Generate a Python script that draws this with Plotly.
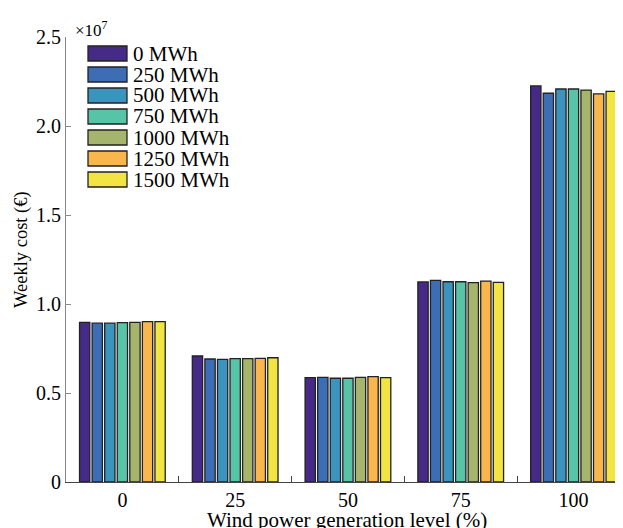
import plotly.graph_objects as go

levels = ["0", "25", "50", "75", "100"]
capacities = ["0 MWh", "250 MWh", "500 MWh", "750 MWh", "1000 MWh", "1250 MWh", "1500 MWh"]
colors = ["#452b87", "#3c6db5", "#3b94bd", "#57c4a8", "#a6b56c", "#f8b64c", "#f1e443"]

# Weekly cost in units of 10^7 EUR
cost_0 = [0.897, 0.708, 0.586, 1.124, 2.225]
cost_250 = [0.892, 0.691, 0.588, 1.133, 2.184]
cost_500 = [0.892, 0.689, 0.583, 1.125, 2.208]
cost_750 = [0.895, 0.693, 0.583, 1.125, 2.208]
cost_1000 = [0.897, 0.693, 0.588, 1.120, 2.202]
cost_1250 = [0.901, 0.695, 0.592, 1.129, 2.181]
cost_1500 = [0.901, 0.698, 0.586, 1.122, 2.195]
series = [cost_0, cost_250, cost_500, cost_750, cost_1000, cost_1250, cost_1500]

ytick_vals = [0, 0.5, 1.0, 1.5, 2.0, 2.5]
ytick_text = ["0", "0.5", "1.0", "1.5", "2.0", "2.5"]

FONT = "Liberation Serif"

fig = go.Figure()
for name, vals, col in zip(capacities, series, colors):
    fig.add_trace(go.Bar(
        x=levels, y=vals, name=name,
        marker=dict(color=col, line=dict(color="#222222", width=1.3)),
        showlegend=False,
    ))

# page places the figure 8px from the top-left corner (default body margin)
OFF = 8
SW, SH = 623, 528                      # screenshot size
W, H = SW - OFF, SH - OFF              # figure size
# plot area in screenshot pixels
X0, X1, Y0, Y1 = 66, 622, 37, 482
L, R, T, B = X0 - OFF, SW - X1, Y0 - OFF, SH - Y1
pw, ph = X1 - X0, Y1 - Y0

def px2x(px):
    return (px - X0) / pw

def py2y(py):
    return (Y1 - py) / ph

shapes = []
annotations = []
for i, (name, col) in enumerate(zip(capacities, colors)):
    cy = 53.5 + 21 * i
    shapes.append(dict(type="rect", xref="paper", yref="paper",
                       x0=px2x(88), x1=px2x(127), y0=py2y(cy + 7.5), y1=py2y(cy - 7.5),
                       fillcolor=col, line=dict(color="#222222", width=1.3)))
    annotations.append(dict(xref="paper", yref="paper", x=px2x(131), y=py2y(cy),
                            xanchor="left", yanchor="middle", text=name, showarrow=False,
                            font=dict(family=FONT, size=21, color="black")))

annotations.append(dict(xref="paper", yref="paper", x=px2x(73), y=py2y(42),
                        xanchor="left", yanchor="bottom", text="×10<sup>7</sup>", showarrow=False,
                        font=dict(family=FONT, size=17, color="black")))
annotations.append(dict(xref="paper", yref="paper", x=px2x(347), y=py2y(520),
                        xanchor="center", yanchor="middle", text="Wind power generation level (%)",
                        showarrow=False, font=dict(family=FONT, size=21, color="black")))
annotations.append(dict(xref="paper", yref="paper", x=px2x(21), y=py2y(250),
                        xanchor="center", yanchor="middle", text="Weekly cost (€)", textangle=-90,
                        showarrow=False, font=dict(family=FONT, size=18.5, color="black")))

fig.update_layout(
    width=W, height=H,
    margin=dict(l=L, r=R, t=T, b=B),
    paper_bgcolor="white", plot_bgcolor="white",
    barmode="group", bargap=0.22, bargroupgap=0.18,
    font=dict(family=FONT, size=20, color="black"),
    shapes=shapes, annotations=annotations,
    xaxis=dict(type="category", range=[-0.5, 4.43], tickson="boundaries",
               ticks="inside", ticklen=6, tickcolor="#444", showline=True,
               linecolor="#444", linewidth=1, showgrid=False, zeroline=False,
               automargin=False, tickfont=dict(family=FONT, size=20)),
    yaxis=dict(range=[0, 2.5], tickvals=ytick_vals, ticktext=ytick_text,
               ticks="inside", ticklen=5, tickcolor="#888", showline=True,
               linecolor="#888", linewidth=1, showgrid=False, zeroline=False,
               automargin=False, tickfont=dict(family=FONT, size=20)),
)

fig.write_html("out.html")
